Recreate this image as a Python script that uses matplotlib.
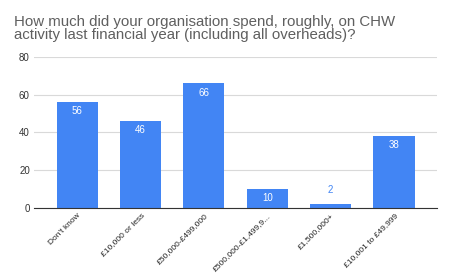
import matplotlib
matplotlib.use('Agg')
import matplotlib.pyplot as plt

categories = ["Don't know", "£10,000 or less", "£50,000-£499,000",
              "£500,000-£1,499,9...", "£1,500,000+", "£10,001 to £49,999"]
values = [56, 46, 66, 10, 2, 38]
title = ("How much did your organisation spend, roughly, on CHW\n"
         "activity last financial year (including all overheads)?")

plt.rcParams['font.family'] = ['Liberation Sans', 'DejaVu Sans']

fig = plt.figure(figsize=(4.51, 2.79), dpi=100)
ax = fig.add_axes([0.0754, 0.2545, 0.8936, 0.5412])

blue = '#4285F4'
x = range(len(categories))
bars = ax.bar(x, values, width=0.65, color=blue, zorder=3)

for xi, v in zip(x, values):
    if v >= 8:
        ax.text(xi, v - 2.2, str(v), ha='center', va='top', color='white', fontsize=7)
    else:
        ax.text(xi, v + 5, str(v), ha='center', va='bottom', color=blue, fontsize=7)

ax.set_ylim(0, 80)
ax.set_xlim(-0.68, len(categories) - 0.32)
ax.set_yticks([0, 20, 40, 60, 80])
ax.tick_params(axis='y', length=0, labelsize=7, pad=3, colors='#333333')
ax.tick_params(axis='x', length=0, pad=3)
ax.set_xticks(list(x))
ax.set_xticklabels(categories, rotation=45, ha='right', rotation_mode='anchor',
                   fontsize=6, color='#222222')
ax.grid(axis='y', color='#d9d9d9', linewidth=0.8, zorder=0)
for s in ['top', 'right', 'left']:
    ax.spines[s].set_visible(False)
ax.spines['bottom'].set_color('#333333')
ax.spines['bottom'].set_linewidth(0.8)
ax.spines['bottom'].set_zorder(4)

fig.text(0.031, 0.945, title, ha='left', va='top', fontsize=10.8, color='#5f5f5f',
         linespacing=0.92)

fig.savefig('out.png', dpi=100)
